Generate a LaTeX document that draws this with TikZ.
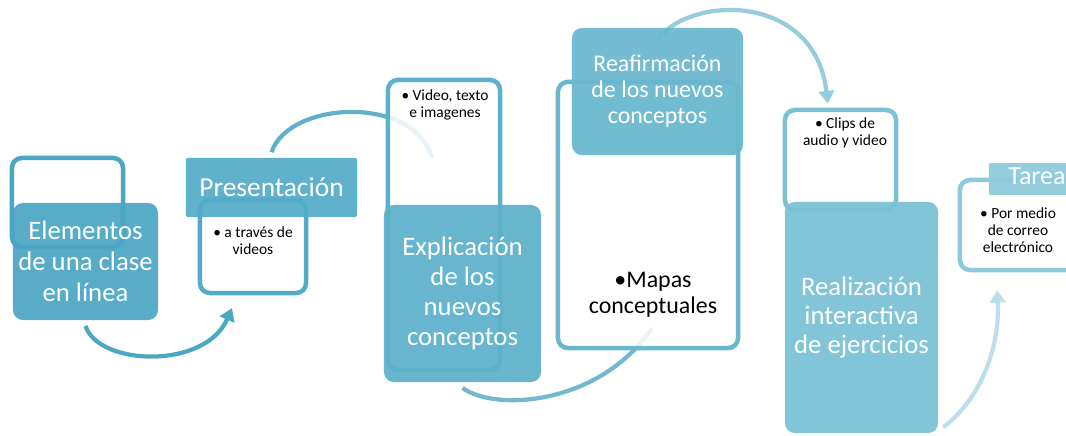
\documentclass[tikz,border=0pt]{standalone}
\usepackage{fontspec}
\setmainfont{Carlito}
\usetikzlibrary{arrows.meta,positioning,backgrounds}

\definecolor{tealA}{RGB}{75,166,196}
\definecolor{tealB}{RGB}{84,171,199}
\definecolor{tealC}{RGB}{92,176,202}
\definecolor{tealD}{RGB}{104,183,207}
\definecolor{tealE}{RGB}{122,193,213}
\definecolor{tealF}{RGB}{140,201,219}
\definecolor{arcA}{RGB}{75,167,194}
\definecolor{arcB}{RGB}{95,176,200}
\definecolor{arcC}{RGB}{115,185,206}
\definecolor{arcD}{RGB}{150,205,221}
\definecolor{arcE}{RGB}{190,223,233}

\begin{document}
\begin{tikzpicture}[x=0.025cm,y=-0.025cm,>={Triangle[length=9pt,width=11pt]},
    outbox/.style={draw,line width=3.2pt,rounded corners=7pt,fill=white,fill opacity=.85,inner sep=0pt},
    mainbox/.style={rounded corners=7pt,fill opacity=.93,text opacity=1,text=white,align=center,inner sep=0pt},
    subtext/.style={align=center,font=\fontsize{11}{12}\selectfont},
    flow/.style={line width=3pt}]
            \useasboundingbox (0,0) rectangle (1066,435);
            \node[outbox, draw=tealA, minimum width=2.775cm, minimum height=2.225cm] (o_1) at (67.5,202.5) {};
            \node[mainbox, fill=tealA, minimum width=3.625cm, minimum height=2.925cm,
                font=\fontsize{19}{22}\selectfont] (e_1) at (85.5,261.5) {Elementos\\de una clase\\en línea};
            \node[outbox, draw=tealB, minimum width=2.65cm, minimum height=2.325cm] (o_2) at (253,246.5) {};
            \node[mainbox, fill=tealB, rounded corners=1pt, minimum width=4.275cm, minimum height=1.475cm,
                font=\fontsize{19.5}{22}\selectfont] (p_1) at (271.5,187.5) {Presentación};
            \node[subtext] (s_2) at (253,241) {\textbullet\ a través de\\videos};
            \node[outbox, draw=tealC, minimum width=2.8cm, minimum height=7.25cm] (o_3) at (444,225) {};
            \node[mainbox, fill=tealC, minimum width=3.925cm, minimum height=4.425cm,
                font=\fontsize{19}{21.3}\selectfont] (x_1) at (462.5,293.5) {Explicación\\de los\\nuevos\\conceptos};
            \node[subtext] (s_3) at (445,105) {\textbullet\ Video, texto\\e imagenes};
            \node[outbox, draw=tealD, minimum width=4.5cm, minimum height=6.65cm] (o_4) at (648,215) {};
            \node[mainbox, fill=tealD, minimum width=4.275cm, minimum height=3.175cm,
                font=\fontsize{17}{18.5}\selectfont] (r_1) at (657.5,91.5) {Reafirmación\\de los nuevos\\conceptos};
            \node[align=center, font=\fontsize{17}{18.5}\selectfont] (s_4) at (653,295) {\textbullet Mapas\\conceptuales};
            \node[outbox, draw=tealE, minimum width=2.775cm, minimum height=2.5cm] (o_5) at (840.5,160) {};
            \node[mainbox, fill=tealE, minimum width=3.825cm, minimum height=5.775cm,
                font=\fontsize{19}{20.3}\selectfont] (z_1) at (861.5,317.5) {Realización\\interactiva\\de ejercicios};
            \node[subtext] (s_5) at (845,133) {\textbullet\ Clips de\\audio y video};
            \node[outbox, draw=tealF, minimum width=3cm, minimum height=2.25cm] (o_6) at (1020,225) {};
            \node[mainbox, fill=tealF, rounded corners=1pt, minimum width=2.525cm, minimum height=0.8cm] (t_1) at (1039.5,179) {};
            \node[text=white, font=\fontsize{18.5}{20}\selectfont] (t_2) at (1037,176) {Tarea};
            \node[subtext] (s_6) at (1018,230) {\textbullet\ Por medio\\de correo\\electrónico};
            \coordinate (a_1) at (232,308);
            \coordinate (a_2) at (432,158);
            \coordinate (a_3) at (652,328);
            \coordinate (a_5) at (997,290);
            \begin{scope}[on background layer]
                \draw[flow, arcA, ->] ([yshift=-4pt]e_1.south) .. controls +(13,40) and +(-27,62) .. (a_1);
                \draw[flow, arcB] ([yshift=4pt]p_1.north) .. controls +(18,-52) and +(-17,-63) .. (a_2);
                \draw[flow, arcC] ([yshift=-4pt]x_1.south) .. controls +(33,24) and +(-52,77) .. (a_3);
                \draw[flow, arcD, ->] ([yshift=-8.5pt]r_1.north) .. controls +(33,-45) and +(-13,-111) .. ([xshift=-9pt,yshift=3pt]o_5.north);
                \draw[flow, arcE, ->] ([xshift=3.5pt,yshift=4.3pt]z_1.south east) .. controls +(42,-32) and +(3,50) .. (a_5);
            \end{scope}
        \end{tikzpicture}
\end{document}
